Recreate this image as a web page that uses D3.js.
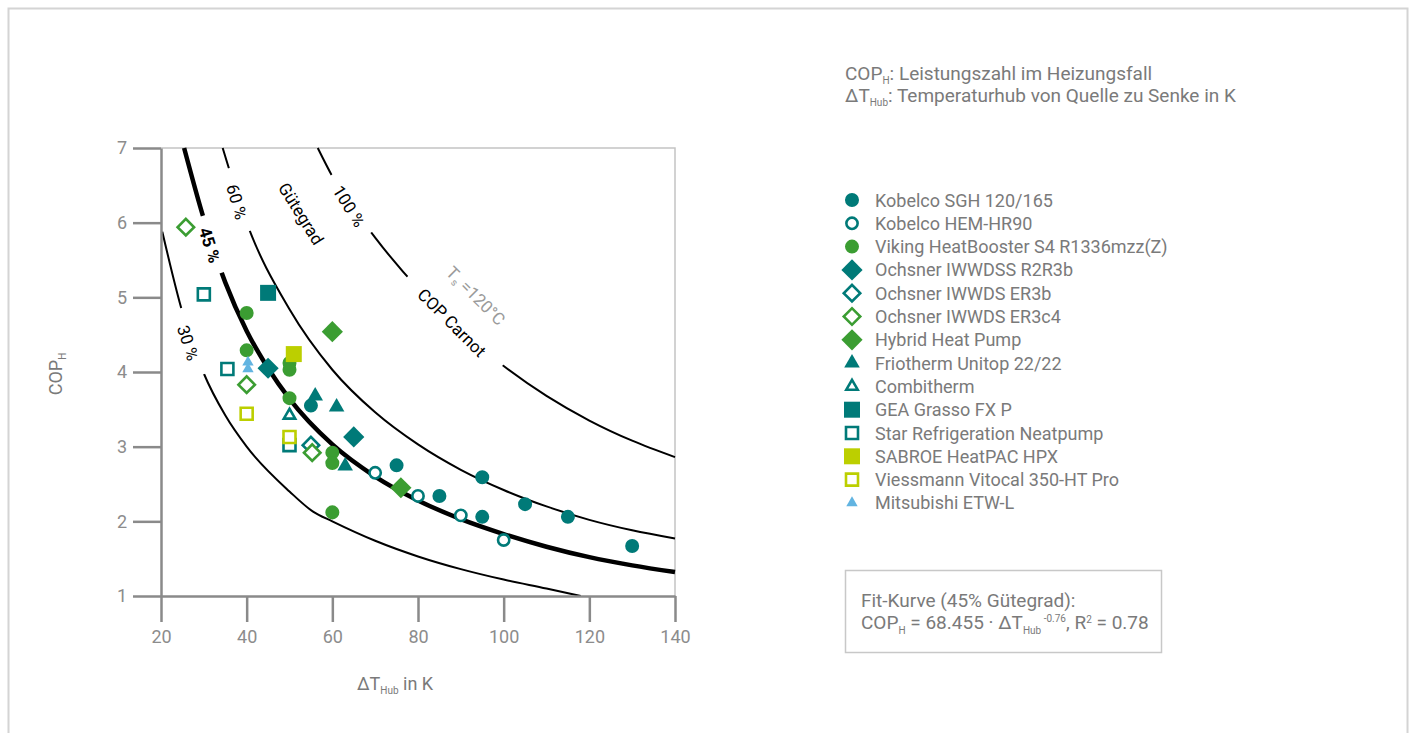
<!DOCTYPE html>
<html>
<head>
<meta charset="utf-8">
<script src="https://cdn.jsdelivr.net/npm/d3@7"></script>
<style>
  body { margin: 0; background: #fff; }
  svg { display: block; font-family: Roboto, "Open Sans", sans-serif; }
</style>
</head>
<body>
<script>
// axis ticks
const xTicks = [20, 40, 60, 80, 100, 120, 140];
const yTicks = [1, 2, 3, 4, 5, 6, 7];

// Gütegrad curves [dT, COP]
const curve30 = [[20.3,5.88],[25,4.8],[30,3.98],[35,3.42],[40,3.0],[50,2.4],[55.5,2.13],[60,2.0],[70,1.74],[80,1.53],[90,1.36],[100,1.22],[110,1.1],[118,1.0]];
const curve45 = [[25.4,7.0],[30,6.05],[35,5.2],[40,4.55],[45,4.05],[50,3.64],[60,3.03],[70,2.6],[80,2.28],[90,2.03],[100,1.83],[110,1.66],[120,1.52],[130,1.41],[140,1.32]];
const curve60 = [[34.4,7.0],[40,6.0],[50,4.84],[60,4.03],[70,3.46],[80,3.03],[90,2.69],[100,2.42],[110,2.2],[120,2.02],[130,1.88],[140,1.77]];
const curve100 = [[56.6,7.0],[60,6.62],[70,5.8],[80,5.12],[90,4.56],[100,4.08],[110,3.68],[120,3.35],[130,3.08],[140,2.86]];

// measured heat pumps [dT, COP]
const kobelcoSGH = [[55,3.55],[75,2.75],[85,2.34],[95,2.59],[95,2.06],[105,2.23],[115,2.06],[130,1.67]];
const kobelcoHEM = [[70,2.65],[80,2.34],[90,2.08],[100,1.75]];
const viking = [[40,4.79],[40,4.29],[50,4.12],[50,4.03],[50,3.65],[60,2.92],[60,2.78],[60,2.12]];
const ochsnerR2R3b = [[45,4.05],[65,3.13]];
const ochsnerER3b = [[55,3.02]];
const ochsnerER3c4 = [[25.8,5.94],[40,3.83],[55.3,2.92]];
const hybrid = [[60,4.54],[76,2.45]];
const friotherm = [[56,3.68],[61,3.53],[63,2.74]];
const combitherm = [[50,3.42]];
const geaGrasso = [[45,5.06]];
const starNeatpump = [[30,5.04],[35.5,4.04],[50,3.02]];
const sabroe = [[51,4.24]];
const viessmann = [[40,3.44],[50,3.13]];
const mitsubishi = [[40.3,4.13],[40.3,4.04]];

const teal = "#007a78", green = "#3b9d32", lime = "#bccf00", blue = "#62b4e1";

const series = [
  { name: "Kobelco SGH 120/165", data: kobelcoSGH, shape: "circle", fill: true, color: teal },
  { name: "Kobelco HEM-HR90", data: kobelcoHEM, shape: "circle", fill: false, color: teal },
  { name: "Viking HeatBooster S4 R1336mzz(Z)", data: viking, shape: "circle", fill: true, color: green },
  { name: "Ochsner IWWDSS R2R3b", data: ochsnerR2R3b, shape: "diamond", fill: true, color: teal },
  { name: "Ochsner IWWDS ER3b", data: ochsnerER3b, shape: "diamond", fill: false, color: teal },
  { name: "Ochsner IWWDS ER3c4", data: ochsnerER3c4, shape: "diamond", fill: false, color: green },
  { name: "Hybrid Heat Pump", data: hybrid, shape: "diamond", fill: true, color: green },
  { name: "Friotherm Unitop 22/22", data: friotherm, shape: "triangle", fill: true, color: teal },
  { name: "Combitherm", data: combitherm, shape: "triangle", fill: false, color: teal },
  { name: "GEA Grasso FX P", data: geaGrasso, shape: "square", fill: true, color: teal },
  { name: "Star Refrigeration Neatpump", data: starNeatpump, shape: "square", fill: false, color: teal },
  { name: "SABROE HeatPAC HPX", data: sabroe, shape: "square", fill: true, color: lime },
  { name: "Viessmann Vitocal 350-HT Pro", data: viessmann, shape: "square", fill: false, color: lime },
  { name: "Mitsubishi ETW-L", data: mitsubishi, shape: "smalltriangle", fill: true, color: blue }
];

const W = 1415, H = 733;
const textGray = "#7a7a7a";

const svg = d3.select("body").append("svg").attr("width", W).attr("height", H);

// outer frame
svg.append("rect").attr("x", 8.5).attr("y", 8.5).attr("width", 1399).attr("height", 740)
  .attr("fill", "none").attr("stroke", "#d4d4d4").attr("stroke-width", 2);

const x = d3.scaleLinear().domain([20, 140]).range([161, 675]);
const y = d3.scaleLinear().domain([1, 7]).range([596, 148]);

// plot frame (top / right)
svg.append("path")
  .attr("d", `M${x(20)},${y(7)}H${x(140)}V${y(1)}`)
  .attr("fill", "none").attr("stroke", "#c4c4c4").attr("stroke-width", 1.5);

// gaps in curves where the labels sit
const gaps = [
  { dt: 64.6, cop: 6.26, w: 70, h: 22, angle: 57 },
  { dt: 37.7, cop: 6.30, w: 66, h: 20, angle: 74 },
  { dt: 31.9, cop: 5.71, w: 60, h: 22, angle: 72 },
  { dt: 27.7, cop: 4.42, w: 70, h: 20, angle: 72 },
  { dt: 88.6, cop: 4.68, w: 130, h: 40, angle: 43 }
];
const defs = svg.append("defs");
const mask = defs.append("mask").attr("id", "gapMask")
  .attr("maskUnits", "userSpaceOnUse").attr("x", 0).attr("y", 0).attr("width", W).attr("height", H);
mask.append("rect").attr("width", W).attr("height", H).attr("fill", "white");
gaps.forEach(g => {
  mask.append("rect")
    .attr("x", -g.w / 2).attr("y", -g.h / 2).attr("width", g.w).attr("height", g.h)
    .attr("fill", "black")
    .attr("transform", `translate(${x(g.dt)},${y(g.cop)}) rotate(${g.angle})`);
});

const line = d3.line().x(d => x(d[0])).y(d => y(d[1])).curve(d3.curveMonotoneX);
const curves = svg.append("g").attr("mask", "url(#gapMask)").attr("fill", "none").attr("stroke", "#000");
curves.append("path").attr("d", line(curve30)).attr("stroke-width", 2);
curves.append("path").attr("d", line(curve60)).attr("stroke-width", 2);
curves.append("path").attr("d", line(curve100)).attr("stroke-width", 2);
curves.append("path").attr("d", line(curve45)).attr("stroke-width", 4.5);

// curve labels
const labels = [
  { text: "100 %", dt: 63.9, cop: 6.22, angle: 58 },
  { text: "Gütegrad", dt: 52.7, cop: 6.12, angle: 58 },
  { text: "60 %", dt: 37.7, cop: 6.28, angle: 74 },
  { text: "45 %", dt: 31.4, cop: 5.70, angle: 72, bold: true },
  { text: "30 %", dt: 26.3, cop: 4.39, angle: 72 },
  { text: "COP Carnot", dt: 87.9, cop: 4.66, angle: 45 }
];
labels.forEach(l => {
  svg.append("text")
    .attr("transform", `translate(${x(l.dt)},${y(l.cop)}) rotate(${l.angle})`)
    .attr("text-anchor", "middle").attr("dominant-baseline", "central")
    .attr("font-size", 17).attr("fill", "#000")
    .attr("font-weight", l.bold ? "bold" : "normal")
    .text(l.text);
});
const ts = svg.append("text")
  .attr("transform", `translate(${x(93.5)},${y(5.02)}) rotate(45)`)
  .attr("text-anchor", "middle").attr("dominant-baseline", "central")
  .attr("font-size", 17).attr("fill", "#9a9a9a");
ts.append("tspan").text("T");
ts.append("tspan").attr("font-size", 10).attr("dy", 5).text("s");
ts.append("tspan").attr("dy", -5).text(" =120°C");

// axes
const axisColor = "#8a8a8a";
const yAxis = svg.append("g").attr("transform", `translate(${x(20)},0)`)
  .call(d3.axisLeft(y).tickValues(yTicks).tickFormat(d3.format("d")).tickSize(28).tickSizeOuter(0).tickPadding(6));
const xAxis = svg.append("g").attr("transform", `translate(0,${y(1)})`)
  .call(d3.axisBottom(x).tickValues(xTicks).tickFormat(d3.format("d")).tickSize(26).tickSizeOuter(0).tickPadding(8));
[xAxis, yAxis].forEach(a => {
  a.select(".domain").attr("stroke", axisColor).attr("stroke-width", 2.5);
  a.selectAll(".tick line").attr("stroke", axisColor).attr("stroke-width", 2.5);
  a.selectAll(".tick text").attr("fill", "#8c8c8c").attr("font-size", 18)
    .attr("font-family", "Roboto, sans-serif");
});

// axis titles
const yTitle = svg.append("text")
  .attr("transform", `translate(62,${(y(1) + y(7)) / 2 + 2}) rotate(-90)`)
  .attr("text-anchor", "middle").attr("font-size", 18).attr("fill", textGray);
yTitle.append("tspan").text("COP");
yTitle.append("tspan").attr("font-size", 10).attr("dy", 4).text("H");

const xTitle = svg.append("text").attr("x", (x(20) + x(140)) / 2 - 23).attr("y", 690)
  .attr("text-anchor", "middle").attr("font-size", 18).attr("fill", textGray);
xTitle.append("tspan").text("ΔT");
xTitle.append("tspan").attr("font-size", 10).attr("dy", 4).text("Hub");
xTitle.append("tspan").attr("dy", -4).text(" in K");

// markers
function marker(sel, s) {
  const sizes = {
    circle: s.fill ? 154 : 100,
    diamond: s.fill ? 225 : 136,
    triangle: s.fill ? 105 : 56,
    square: s.fill ? 256 : 144,
    smalltriangle: 56
  };
  const type = s.shape === "circle" ? d3.symbolCircle
    : (s.shape === "triangle" || s.shape === "smalltriangle") ? d3.symbolTriangle
    : d3.symbolSquare;
  sel.append("path")
    .attr("d", d3.symbol().type(type).size(sizes[s.shape])())
    .attr("transform", s.shape === "diamond" ? "rotate(45)" : null)
    .attr("fill", s.fill ? s.color : "#fff")
    .attr("stroke", s.fill ? "none" : s.color)
    .attr("stroke-width", s.fill ? 0 : 2.6);
}

const pts = svg.append("g");
series.forEach(s => {
  s.data.forEach(d => {
    const g = pts.append("g").attr("transform", `translate(${x(d[0])},${y(d[1])})`);
    marker(g, s);
  });
});

// header notes
const notes = svg.append("g").attr("font-size", 19).attr("fill", textGray);
const n1 = notes.append("text").attr("x", 845).attr("y", 80);
n1.append("tspan").text("COP");
n1.append("tspan").attr("font-size", 10).attr("dy", 4).text("H");
n1.append("tspan").attr("dy", -4).text(": Leistungszahl im Heizungsfall");
const n2 = notes.append("text").attr("x", 845).attr("y", 102);
n2.append("tspan").text("ΔT");
n2.append("tspan").attr("font-size", 10).attr("dy", 4).text("Hub");
n2.append("tspan").attr("dy", -4).text(": Temperaturhub von Quelle zu Senke in K");

// legend
const legend = svg.append("g").attr("transform", "translate(852,200)");
series.forEach((s, i) => {
  const row = legend.append("g").attr("transform", `translate(0,${i * 23.3})`);
  marker(row, s);
  row.append("text").attr("x", 23).attr("y", 0).attr("dominant-baseline", "central")
    .attr("font-size", 18).attr("fill", textGray).text(s.name);
});

// fit box
svg.append("rect").attr("x", 845.5).attr("y", 570.5).attr("width", 316).attr("height", 82)
  .attr("fill", "none").attr("stroke", "#c8c8c8").attr("stroke-width", 1.5);
const fit = svg.append("g").attr("font-size", 19).attr("fill", textGray);
fit.append("text").attr("x", 861).attr("y", 607).text("Fit-Kurve (45% Gütegrad):");
const f2 = fit.append("text").attr("x", 861).attr("y", 629);
f2.append("tspan").text("COP");
f2.append("tspan").attr("font-size", 10).attr("dy", 5).text("H");
f2.append("tspan").attr("dy", -5).text(" = 68.455 · ΔT");
f2.append("tspan").attr("font-size", 10).attr("dy", 5).text("Hub");
f2.append("tspan").attr("font-size", 10).attr("dy", -12).text(" -0.76");
f2.append("tspan").attr("dy", 7).text(", R");
f2.append("tspan").attr("font-size", 10).attr("dy", -6).text("2");
f2.append("tspan").attr("dy", 6).text(" = 0.78");
</script>
</body>
</html>
